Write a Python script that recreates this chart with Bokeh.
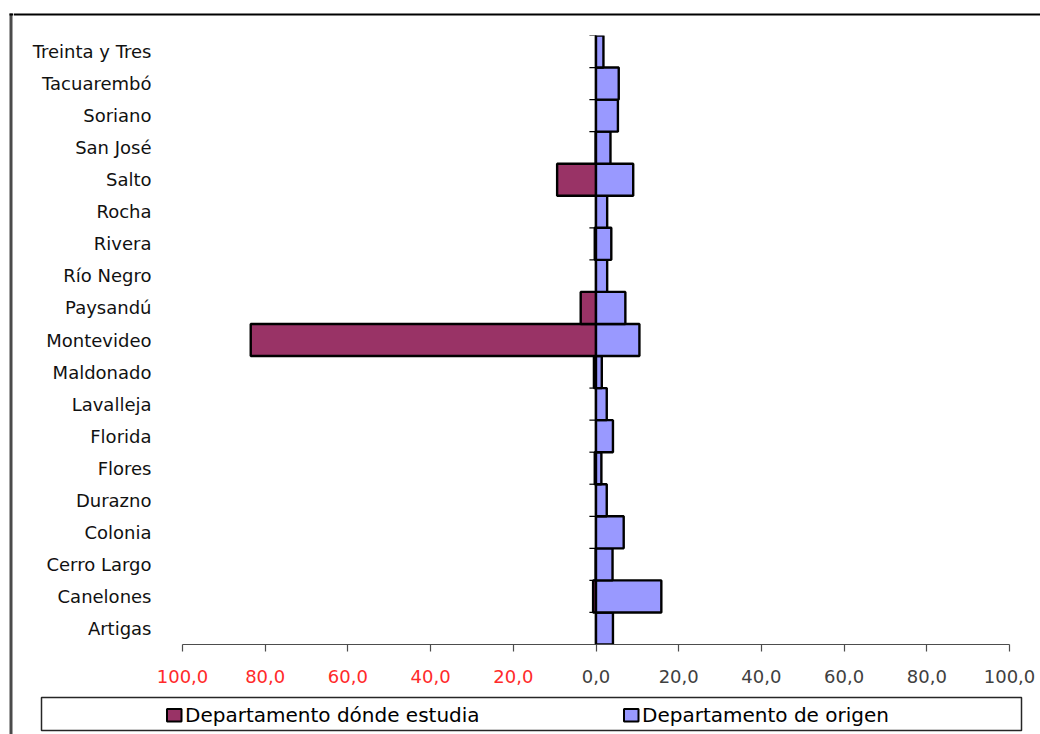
from bokeh.plotting import figure
from bokeh.layouts import row, column
from bokeh.models import (Range1d, FixedTicker, CustomJSTickFormatter, Span,
                          ColumnDataSource)
from bokeh.core.properties import value
from bokeh.embed import file_html
from bokeh.resources import INLINE

# Departments, listed bottom to top
departamentos = ["Artigas", "Canelones", "Cerro Largo", "Colonia", "Durazno", "Flores",
                 "Florida", "Lavalleja", "Maldonado", "Montevideo", "Paysandú", "Río Negro",
                 "Rivera", "Rocha", "Salto", "San José", "Soriano", "Tacuarembó",
                 "Treinta y Tres"]

# Percent of students by department where they study (plotted to the left)
donde_estudia = [0.0, -0.7, -0.1, 0.0, 0.0, -0.3, 0.0, 0.0, -0.5, -83.5, -3.7, 0.0,
                 -0.3, 0.0, -9.4, -0.1, 0.0, 0.0, 0.0]
# Percent of students by department of origin (plotted to the right)
origen = [4.1, 15.8, 4.0, 6.7, 2.6, 1.3, 4.1, 2.6, 1.4, 10.5, 7.1, 2.7,
          3.7, 2.7, 9.0, 3.5, 5.3, 5.5, 1.8]

tick_values = [-100, -80, -60, -40, -20, 0, 20, 40, 60, 80, 100]
tick_labels = ["100,0", "80,0", "60,0", "40,0", "20,0", "0,0",
               "20,0", "40,0", "60,0", "80,0", "100,0"]

serie_estudia = "Departamento dónde estudia"
serie_origen = "Departamento de origen"
color_estudia = "#993366"
color_origen = "#9999FF"

# page geometry (pixels)
W, H = 1040, 734
STRIP = 13                 # left strip holding the chart border
TOP_H = 35                 # strip above the plot area
MAIN_BOTTOM = 660          # lower edge of the main figure
FRAME_L, FRAME_R, FRAME_B = 182, 1009, 644
FONT = "DejaVu Sans"


def no_frame_align(f):
    # keep each figure's plot area independent inside the layout
    if "frame_align" in f.properties():
        f.frame_align = False
    return f


def blank(width, height, x0, x1, y0, y1):
    """A figure whose plot area is the whole canvas, in pixel-like units (y downwards)."""
    f = figure(width=width, height=height, x_range=Range1d(x0, x1),
               y_range=Range1d(y1, y0), x_axis_type=None, y_axis_type=None,
               min_border=0, output_backend="svg", toolbar_location=None)
    f.outline_line_color = None
    f.background_fill_color = "white"
    f.border_fill_color = "white"
    return no_frame_align(f)


# ---- left strip: border line of the chart area
left = blank(STRIP, H, 0, STRIP, 0, H)
left.quad(left=[9], right=[12], top=[13], bottom=[H], fill_color="#4a4a4a", line_color=None)
left.quad(left=[9], right=[STRIP], top=[13], bottom=[15], fill_color="black", line_color=None)

# ---- top strip: upper border line
top = blank(W - STRIP, TOP_H, STRIP, W, 0, TOP_H)
top.quad(left=[STRIP], right=[W], top=[13], bottom=[15], fill_color="black", line_color=None)

# ---- main chart
p = figure(width=W - STRIP, height=MAIN_BOTTOM - TOP_H,
           x_range=Range1d(-100, 100), y_range=Range1d(0, len(departamentos)),
           output_backend="svg", toolbar_location=None,
           min_border_left=FRAME_L - STRIP, min_border_right=W - FRAME_R,
           min_border_top=0, min_border_bottom=MAIN_BOTTOM - FRAME_B)
no_frame_align(p)
p.outline_line_color = None
p.background_fill_color = "white"
p.border_fill_color = "white"
p.xgrid.visible = False
p.ygrid.visible = False

ys = [i + 0.5 for i in range(len(departamentos))]
src = ColumnDataSource(dict(y=ys, estudia=donde_estudia, origen=origen))
p.hbar(y="y", left=0, right="estudia", height=1, source=src,
       fill_color=color_estudia, line_color="black", line_width=2.4)
p.hbar(y="y", left=0, right="origen", height=1, source=src,
       fill_color=color_origen, line_color="black", line_width=2.4)

# vertical axis at zero with ticks between categories
p.add_layout(Span(location=0, dimension="height", line_color="black", line_width=1.5))
bounds = list(range(1, len(departamentos) + 1))
p.segment(x0=[-1.6] * len(bounds), x1=[0] * len(bounds), y0=bounds, y1=bounds,
          line_color="black", line_width=1.2)

# category labels
yax = p.yaxis[0]
yax.ticker = FixedTicker(ticks=ys)
yax.formatter = CustomJSTickFormatter(args=dict(names=departamentos),
                                      code="return names[Math.floor(tick)] ?? ''")
yax.axis_line_color = None
yax.major_tick_line_color = None
yax.minor_tick_line_color = None
yax.major_label_standoff = 25
yax.major_label_text_font = FONT
yax.major_label_text_font_size = "18px"
yax.major_label_text_color = "#111111"

# value axis (tick marks; its labels are set in the strip below, in two colours)
xax = p.xaxis[0]
xax.ticker = FixedTicker(ticks=tick_values)
xax.formatter = CustomJSTickFormatter(code="return ''")
xax.major_label_text_font_size = "1px"
xax.major_label_standoff = 0
xax.axis_line_color = "#4d4d4d"
xax.axis_line_width = 1.2
xax.major_tick_line_color = "#4d4d4d"
xax.major_tick_line_width = 1.2
xax.major_tick_in = 0
xax.major_tick_out = 7
xax.minor_tick_line_color = None

# ---- bottom strip: tick labels and legend
bot = blank(W - STRIP, H - MAIN_BOTTOM, STRIP, W, MAIN_BOTTOM, H)
# value scale aligned with the main plot area
units_per_px = 200 / (FRAME_R - FRAME_L)
bot.extra_x_ranges = {"val": Range1d(-100 - (FRAME_L - STRIP) * units_per_px,
                                     100 + (W - FRAME_R) * units_per_px)}
tick_src = ColumnDataSource(dict(
    x=tick_values, y=[675.5] * len(tick_values), text=tick_labels,
    color=["#ff2a2a" if v < 0 else "#404040" for v in tick_values]))
bot.text(x="x", y="y", text="text", source=tick_src, x_range_name="val",
         text_color="color", text_align="center", text_baseline="middle",
         text_font=value(FONT), text_font_size=value("18px"))

# legend box, swatches and labels
bot.quad(left=[41], right=[1021], top=[697], bottom=[730],
         fill_color="white", line_color="#262626", line_width=1.5)
leg_src = ColumnDataSource(dict(
    left=[166.5, 623.5], right=[181, 638], top=[708.5, 708.5], bottom=[721, 721],
    color=[color_estudia, color_origen], tx=[184.5, 641.5], ty=[714, 714],
    name=[serie_estudia, serie_origen]))
bot.quad(left="left", right="right", top="top", bottom="bottom", source=leg_src,
         fill_color="color", line_color="black", line_width=2)
bot.text(x="tx", y="ty", text="name", source=leg_src, text_color="black",
         text_baseline="middle", text_font=value(FONT), text_font_size=value("20px"))

layout = row(left, column(top, p, bot, spacing=0), spacing=0)
open("out.html", "w").write(file_html(layout, INLINE))
